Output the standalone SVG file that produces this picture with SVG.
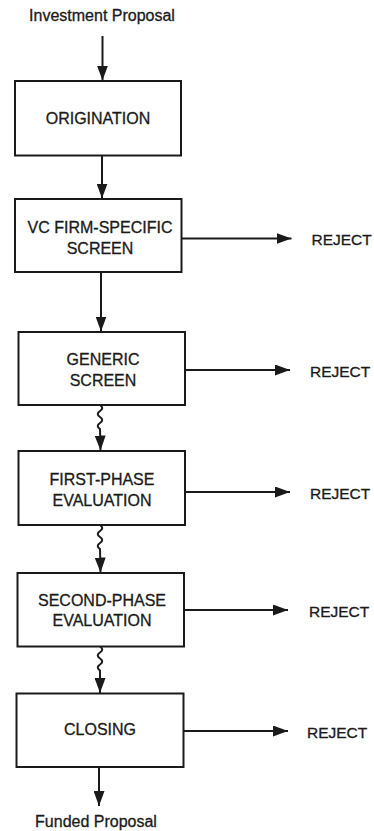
<svg xmlns="http://www.w3.org/2000/svg" width="374" height="831" viewBox="0 0 374 831">
  <style>
    .box { fill: #ffffff; stroke: #1a1a1a; stroke-width: 2; }
    .lbl { font-family: "Liberation Sans", Arial, sans-serif; font-size: 16px; fill: #1a1a1a; stroke: #1a1a1a; stroke-width: 0.3; text-anchor: middle; }
    .rej { font-family: "Liberation Sans", Arial, sans-serif; font-size: 15.5px; fill: #1a1a1a; stroke: #1a1a1a; stroke-width: 0.3; }
    .edge { fill: none; stroke: #1a1a1a; stroke-width: 2; marker-end: url(#head); }
  </style>
  <defs>
    <marker id="head" markerUnits="userSpaceOnUse" viewBox="0 0 15 11" refX="15" refY="5.5" markerWidth="15" markerHeight="11" orient="auto">
      <path d="M0,0 L15,5.5 L0,11 z" fill="#1a1a1a"/>
    </marker>
  </defs>

  <rect width="374" height="831" fill="#ffffff"/>

  <!-- start / end labels -->
  <text class="lbl" x="102" y="21">Investment Proposal</text>
  <text class="lbl" x="96" y="826.5">Funded Proposal</text>

  <g id="connectors">
    <!-- main flow -->
    <path class="edge" d="M102.5,36 L102.5,80.5"/>
    <path class="edge" d="M102,155.5 L102,198.5"/>
    <path class="edge" d="M101,272 L101,331.5"/>
    <path class="edge" d="M100,405 c3,2 3,4 0,6 c-3,2 -3,4 0,6 c3,2 3,4 0,6 c-3,2 -3,4 0,6 L100.5,450.5"/>
    <path class="edge" d="M100,525 c3,2 3,4 0,6 c-3,2 -3,4 0,6 c3,2 3,4 0,6 c-3,2 -3,4 0,6 L100.5,572.5"/>
    <path class="edge" d="M100,646.5 c3,2 3,4 0,6 c-3,2 -3,4 0,6 c3,2 3,4 0,6 c-3,2 -3,4 0,6 L100,693"/>
    <path class="edge" d="M99,767 L99,806"/>
    <!-- reject branches -->
    <path class="edge" d="M181.5,238.5 L291.5,238.5"/>
    <path class="edge" d="M185,370 L290,370"/>
    <path class="edge" d="M185,492 L290,492"/>
    <path class="edge" d="M184,610 L288,610"/>
    <path class="edge" d="M183.5,731 L288,731"/>
  </g>

  <g id="origination">
    <rect class="box" x="15" y="81" width="166" height="74.5"/>
    <text class="lbl" x="98" y="123.5">ORIGINATION</text>
  </g>

  <g id="vc-firm-screen">
    <rect class="box" x="15" y="199" width="166.5" height="73"/>
    <text class="lbl" x="100" y="233">VC FIRM-SPECIFIC</text>
    <text class="lbl" x="100" y="254">SCREEN</text>
  </g>

  <g id="generic-screen">
    <rect class="box" x="18.5" y="332" width="166.5" height="73"/>
    <text class="lbl" x="103" y="365">GENERIC</text>
    <text class="lbl" x="103" y="385.5">SCREEN</text>
  </g>

  <g id="first-phase">
    <rect class="box" x="18.5" y="451" width="166.5" height="74"/>
    <text class="lbl" x="102" y="485">FIRST-PHASE</text>
    <text class="lbl" x="102" y="505.5">EVALUATION</text>
  </g>

  <g id="second-phase">
    <rect class="box" x="17.5" y="573" width="166.5" height="73.5"/>
    <text class="lbl" x="102" y="606">SECOND-PHASE</text>
    <text class="lbl" x="102" y="626">EVALUATION</text>
  </g>

  <g id="closing">
    <rect class="box" x="16.5" y="693.5" width="167" height="73.5"/>
    <text class="lbl" x="100" y="735">CLOSING</text>
  </g>

  <g id="rejects">
    <text class="rej" x="311.5" y="245">REJECT</text>
    <text class="rej" x="310" y="376.5">REJECT</text>
    <text class="rej" x="310" y="498.5">REJECT</text>
    <text class="rej" x="309" y="616.5">REJECT</text>
    <text class="rej" x="307" y="737.5">REJECT</text>
  </g>
</svg>
